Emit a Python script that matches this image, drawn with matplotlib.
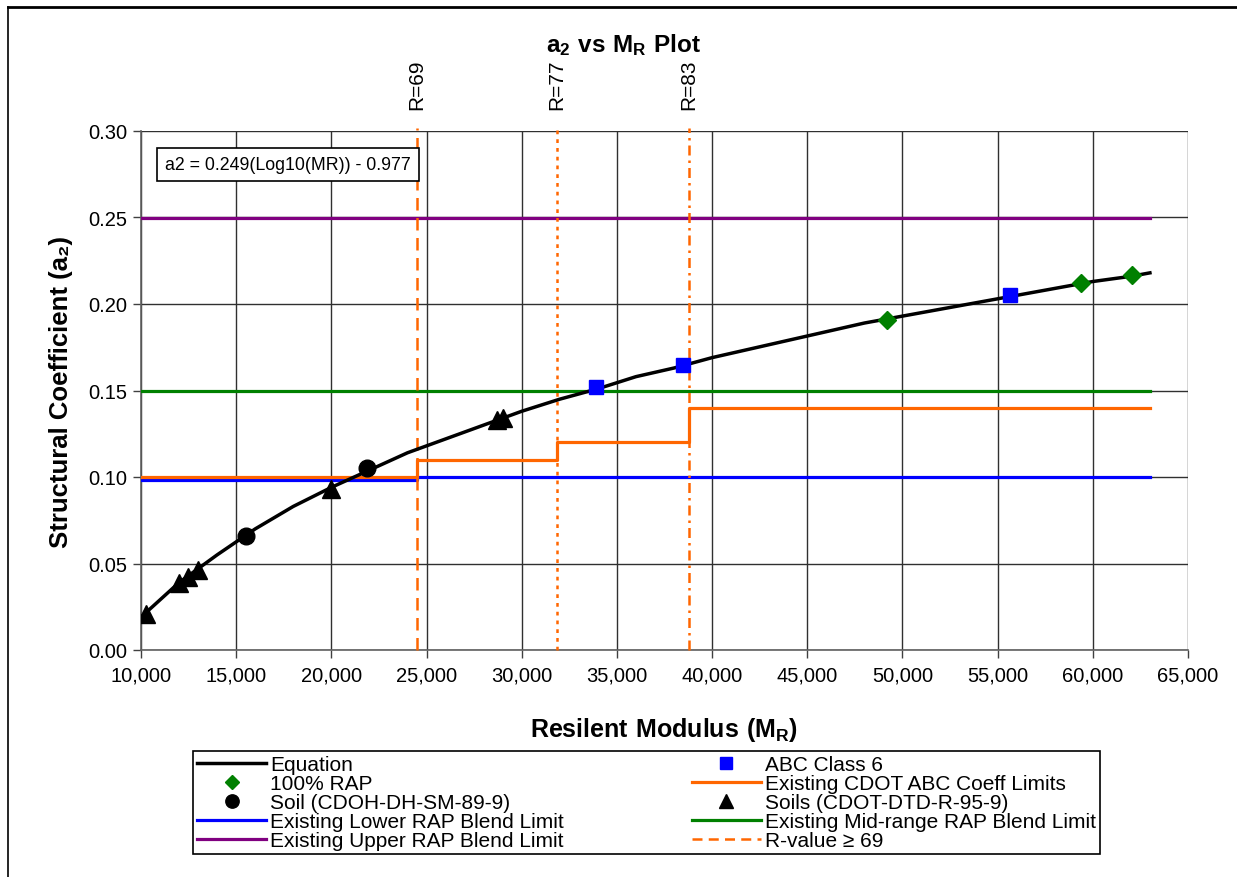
import matplotlib
matplotlib.use('Agg')
import matplotlib.pyplot as plt
from matplotlib.lines import Line2D
from matplotlib.ticker import FuncFormatter, MultipleLocator

plt.rcParams['font.family'] = ['Liberation Sans', 'DejaVu Sans']
plt.rcParams['mathtext.fontset'] = 'custom'
plt.rcParams['mathtext.rm'] = 'Liberation Sans'
plt.rcParams['mathtext.bf'] = 'Liberation Sans:bold'

# ---- data ----
eq_mr = [10000, 12000, 14000, 16000, 18000, 20000, 22000, 24000, 26000, 28000,
         30000, 32000, 34000, 36000, 38000, 40000, 42000, 44000, 46000, 48000,
         50000, 52000, 54000, 56000, 58000, 60000, 62000, 63000]
eq_a2 = [0.019, 0.039, 0.055, 0.070, 0.083, 0.094, 0.104, 0.114, 0.122, 0.130,
         0.138, 0.145, 0.151, 0.158, 0.163, 0.169, 0.174, 0.179, 0.184, 0.189,
         0.193, 0.197, 0.201, 0.205, 0.209, 0.213, 0.216, 0.218]

abc_mr = [33900, 38470, 55640]
abc_a2 = [0.152, 0.165, 0.205]

rap_mr = [49180, 59370, 62050]
rap_a2 = [0.191, 0.212, 0.217]

soil_mr = [15500, 21870]
soil_a2 = [0.066, 0.105]

soils_mr = [10250, 12000, 12450, 13000, 20000, 28700, 29000]
soils_a2 = [0.021, 0.039, 0.042, 0.046, 0.093, 0.133, 0.134]

cdot_mr = [10000, 24500, 24500, 31850, 31850, 38780, 38780, 63000]
cdot_a2 = [0.10, 0.10, 0.11, 0.11, 0.12, 0.12, 0.14, 0.14]

lower_mr = [10000, 24500, 24500, 63000]
lower_a2 = [0.098, 0.098, 0.100, 0.100]

mid_mr = [10000, 63000]
mid_a2 = [0.15, 0.15]

upper_mr = [10000, 63000]
upper_a2 = [0.25, 0.25]

r_values = ['R=69', 'R=77', 'R=83']
r_mr = [24500, 31850, 38780]
r_styles = [(0, (5, 3)), (0, (1.5, 2)), (0, (4, 2, 1, 2))]

# ---- figure ----
fig = plt.figure(figsize=(12.37, 8.78), dpi=100)
ax = fig.add_axes([141 / 1237, 1 - 651 / 878, (1188 - 141) / 1237, (651 - 132) / 878])

orange = '#FF6600'
lw = 2.3

h_upper, = ax.plot(upper_mr, upper_a2, color='#800080', lw=lw, zorder=3)
h_mid, = ax.plot(mid_mr, mid_a2, color='#008000', lw=lw, zorder=3)
h_lower, = ax.plot(lower_mr, lower_a2, color='#0000FF', lw=lw, zorder=3)
h_cdot, = ax.plot(cdot_mr, cdot_a2, color=orange, lw=lw, zorder=3.5)

for lab, x, ls in zip(r_values, r_mr, r_styles):
    ax.plot([x, x], [0, 0.302], color=orange, lw=1.8, linestyle=ls,
            clip_on=False, zorder=3)
    ax.text(x, 0.313, lab, rotation=90, ha='center', va='bottom', fontsize=15)
h_rleg = Line2D([], [], color=orange, lw=1.8, linestyle=(0, (4, 2.5)))

h_eq, = ax.plot(eq_mr, eq_a2, color='black', lw=2.5, zorder=4)
h_abc, = ax.plot(abc_mr, abc_a2, 's', color='#0000FF', ms=10, mec='#0000FF', zorder=5)
h_rap, = ax.plot(rap_mr, rap_a2, 'D', color='#008000', ms=9, mec='#008000', zorder=5)
h_soil, = ax.plot(soil_mr, soil_a2, 'o', color='black', ms=12, zorder=5)
h_soils, = ax.plot(soils_mr, soils_a2, '^', color='black', ms=13, zorder=5)

ax.set_xlim(10000, 65000)
ax.set_ylim(0, 0.30)
ax.xaxis.set_major_locator(MultipleLocator(5000))
ax.yaxis.set_major_locator(MultipleLocator(0.05))
ax.xaxis.set_major_formatter(FuncFormatter(lambda v, p: f'{v:,.0f}'))
ax.yaxis.set_major_formatter(FuncFormatter(lambda v, p: f'{v:.2f}'))
ax.tick_params(direction='out', length=6, width=1, labelsize=14.5, color='#404040')
ax.tick_params(axis='x', pad=5)
ax.tick_params(axis='y', pad=4)
ax.grid(True, color='#303030', lw=1)
ax.set_axisbelow(True)
for s in ['top', 'right']:
    ax.spines[s].set_visible(False)
for s in ['left', 'bottom']:
    ax.spines[s].set_color('#606060')
    ax.spines[s].set_linewidth(1.2)

ax.text(11250, 0.2805, 'a2 = 0.249(Log10(MR)) - 0.977', fontsize=12.8, ha='left', va='center',
        bbox=dict(boxstyle='square,pad=0.45', facecolor='white', edgecolor='black', lw=1.2),
        zorder=6)

ax.set_xlabel(r'$\mathbf{Resilent\ Modulus\ (M_R)}$', fontsize=18, labelpad=22)
ax.set_ylabel('Structural Coefficient (a₂)', fontsize=18.5, fontweight='bold', labelpad=11)

fig.text(624 / 1237, 1 - 45 / 878, r'$\mathbf{a_2\ vs\ M_R\ Plot}$', fontsize=17.5,
         ha='center', va='center')

handles = [h_eq, h_rap, h_soil, h_lower, h_upper,
           h_abc, h_cdot, h_soils, h_mid, h_rleg]
labels = ['Equation', '100% RAP', 'Soil (CDOH-DH-SM-89-9)', 'Existing Lower RAP Blend Limit',
          'Existing Upper RAP Blend Limit', 'ABC Class 6', 'Existing CDOT ABC Coeff Limits',
          'Soils (CDOT-DTD-R-95-9)', 'Existing Mid-range RAP Blend Limit', 'R-value ≥ 69']
leg = fig.legend(handles, labels, ncol=2, loc='lower left', mode='expand',
                 bbox_to_anchor=(193 / 1237, 1 - 855 / 878, (1100 - 193) / 1237, (855 - 752) / 878),
                 fontsize=15, frameon=True, fancybox=False, edgecolor='black',
                 framealpha=1, labelspacing=0.0, handlelength=3.3, handletextpad=0.2,
                 borderpad=0.2, borderaxespad=0, markerscale=0.8)
leg.get_frame().set_linewidth(1.2)

# outer border of the chart area
fig.add_artist(Line2D([8 / 1237, 8 / 1237], [0, 1 - 8 / 878], color='black', lw=1.2,
                      transform=fig.transFigure))
fig.add_artist(Line2D([8 / 1237, 1], [1 - 8 / 878, 1 - 8 / 878], color='black', lw=2,
                      transform=fig.transFigure))

fig.savefig('out.png', dpi=100)
